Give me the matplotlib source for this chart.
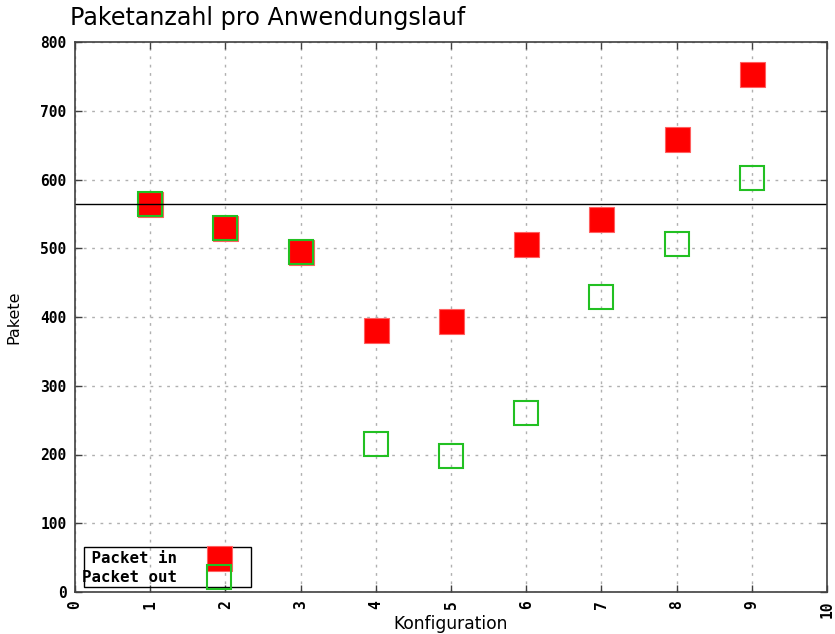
import numpy as np
import matplotlib
matplotlib.use("Agg")
import matplotlib.pyplot as plt
from matplotlib.patches import Rectangle

# Konfigurationen und Paketzahlen
konfig = [1, 2, 3, 4, 5, 6, 7, 8, 9]
packet_in = [565, 530, 495, 381, 394, 506, 542, 659, 753]
packet_out = [565, 530, 495, 215, 198, 260, 429, 506, 602]
referenz = 564

xticks = list(range(0, 11))
yticks = list(range(0, 801, 100))

fig = plt.figure(figsize=(8.35, 6.34), dpi=100)
ax = fig.add_axes([75 / 835, 1 - 592 / 634, (827 - 75) / 835, (592 - 42) / 634])

ax.plot(konfig, packet_in, linestyle="none", marker="s", markersize=18,
        markerfacecolor="#ff0000", markeredgecolor="#ff6060", markeredgewidth=0.8,
        label="Packet in")
ax.plot(konfig, packet_out, linestyle="none", marker="s", markersize=17,
        markerfacecolor="none", markeredgecolor="#22c022", markeredgewidth=1.5,
        label="Packet out")
ax.axhline(referenz, color="black", linewidth=1.0)

ax.set_xlim(0, 10)
ax.set_ylim(0, 800)
ax.set_xticks(xticks)
ax.set_yticks(yticks)
ax.grid(True, color="#b0b0b0", linestyle=(0, (2, 4)), linewidth=1.0)
ax.tick_params(direction="in", top=True, right=True, length=5, width=1,
               color="#404040", labelsize=10.5, pad=6)
for lab in ax.get_xticklabels() + ax.get_yticklabels():
    lab.set_family("DejaVu Sans Mono")
    lab.set_fontweight("bold")
for lab in ax.get_xticklabels():
    lab.set_rotation(90)
for sp in ax.spines.values():
    sp.set_color("#404040")
    sp.set_linewidth(1.2)

ax.set_xlabel("Konfiguration", fontsize=12.3, labelpad=-2)
ax.set_ylabel("Pakete", fontsize=11.5, labelpad=14)
fig.text(70 / 835, 1 - 18 / 634, "Paketanzahl pro Anwendungslauf",
         fontsize=17.2, ha="left", va="center")

leg = ax.legend([" Packet in", "Packet out"], loc="lower left",
                bbox_to_anchor=(7 / 752, 7 / 550), markerfirst=False,
                frameon=False, borderpad=0, labelspacing=0.25,
                handletextpad=1.9, handlelength=1.6, borderaxespad=0,
                prop={"family": "DejaVu Sans Mono", "weight": "bold", "size": 11.3})
ax.add_patch(Rectangle((9 / 752, 5 / 550), 167 / 752, 40 / 550,
                       transform=ax.transAxes, fill=False, edgecolor="black",
                       linewidth=1.0, zorder=4))

fig.savefig("out.png", dpi=100)
